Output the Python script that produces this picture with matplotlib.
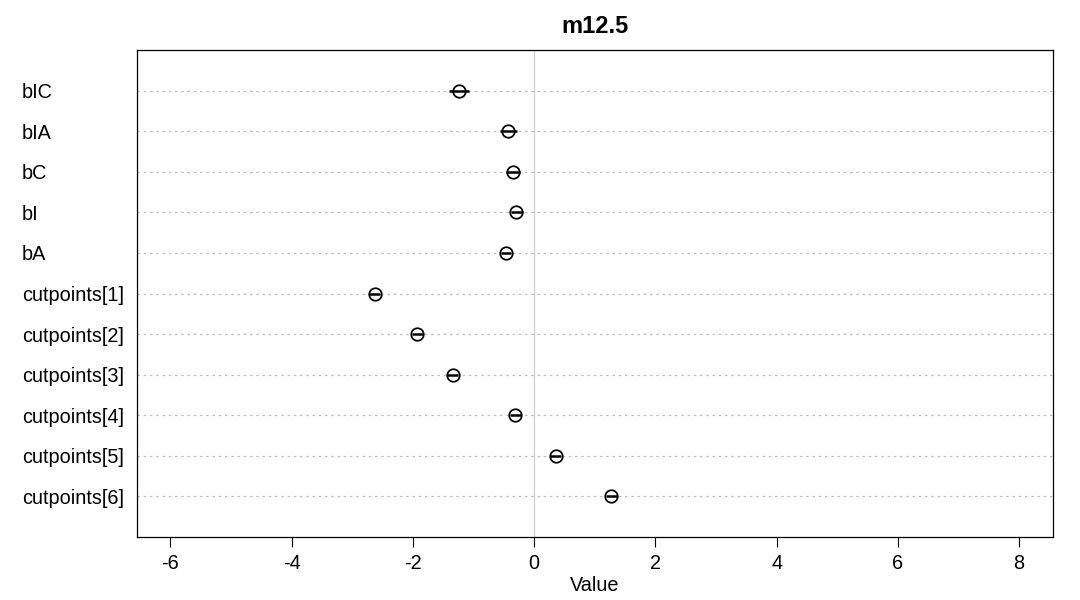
import matplotlib.pyplot as plt
from matplotlib.transforms import blended_transform_factory

plt.rcParams["font.family"] = ["Liberation Sans", "DejaVu Sans"]
plt.rcParams["axes.unicode_minus"] = False

params = ["bIC", "bIA", "bC", "bI", "bA",
          "cutpoints[1]", "cutpoints[2]", "cutpoints[3]",
          "cutpoints[4]", "cutpoints[5]", "cutpoints[6]"]
means = [-1.24, -0.43, -0.34, -0.29, -0.47, -2.63, -1.93, -1.34, -0.31, 0.36, 1.27]
lower = [-1.40, -0.56, -0.46, -0.38, -0.55, -2.72, -2.02, -1.43, -0.40, 0.27, 1.18]
upper = [-1.07, -0.28, -0.23, -0.18, -0.38, -2.54, -1.84, -1.25, -0.22, 0.45, 1.36]

fig = plt.figure(figsize=(10.8, 6), dpi=100)
ax = fig.add_axes([137 / 1080, 1 - 537 / 600, (1053 - 137) / 1080, (537 - 50) / 600])

n = len(params)
ys = list(range(n, 0, -1))

ax.axvline(0, color="#d3d3d3", lw=1, zorder=1)
for y in ys:
    ax.axhline(y, color="#bebebe", lw=0.9, ls=(0, (2, 3)), zorder=1)

for y, m, lo, hi in zip(ys, means, lower, upper):
    ax.plot([lo, hi], [y, y], color="black", lw=1.8, zorder=3, solid_capstyle="butt")
    ax.plot(m, y, "o", mfc="none", mec="black", mew=1.25, ms=9, zorder=4)

ax.set_xlim(-6.55, 8.56)
ax.set_ylim(0, 12)
ax.set_xticks([-6, -4, -2, 0, 2, 4, 6, 8])
ax.set_yticks([])
ax.tick_params(axis="x", direction="out", length=7, width=0.8, labelsize=14.3, pad=5.5)
for s in ax.spines.values():
    s.set_linewidth(0.9)

trans = blended_transform_factory(fig.transFigure, ax.transData)
for y, lab in zip(ys, params):
    ax.text(22 / 1080, y, lab, transform=trans, ha="left", va="center_baseline",
            fontsize=14.3)

ax.set_xlabel("Value", fontsize=14.3, labelpad=2)
ax.set_title("m12.5", fontsize=17, fontweight="bold", pad=12)

fig.savefig("out.png", dpi=100)
